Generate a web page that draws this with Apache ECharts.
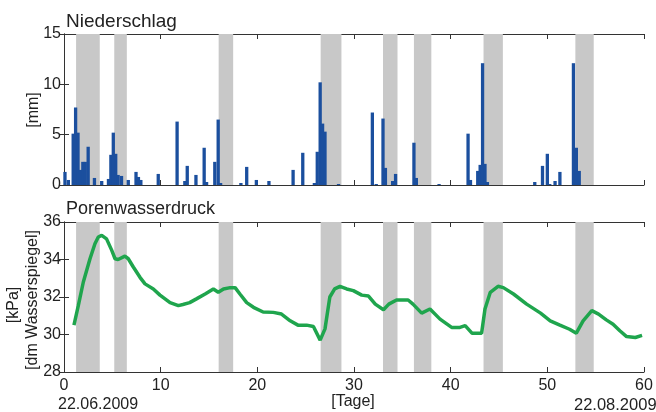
<!DOCTYPE html>
<html>
<head>
<meta charset="utf-8">
<script src="https://cdn.jsdelivr.net/npm/echarts@6/dist/echarts.min.js"></script>
<style>
html,body{margin:0;padding:0;background:#fff;}
#chart{width:656px;height:412px;}
</style>
</head>
<body>
<div id="chart"></div>
<script>
// ---- data ----
const xTicks = [0, 10, 20, 30, 40, 50, 60];
const rainYTicks = [0, 5, 10, 15];
const pressYTicks = [28, 30, 32, 34, 36];

// shaded periods [start day, end day]
const bands = [[1.25, 3.7], [5.2, 6.5], [16.0, 17.5], [26.55, 28.7], [33.0, 34.5], [36.2, 38.0], [43.4, 45.4], [52.9, 54.8]];

// precipitation (day, mm)
const rainDays = [0.1, 0.45, 0.95, 1.2, 1.45, 1.7, 1.95, 2.2, 2.5, 3.15, 3.9,
  4.6, 4.85, 5.1, 5.35, 5.6, 5.95, 6.65, 7.45, 7.7, 7.95, 9.75,
  11.7, 12.5, 12.75, 13.65, 14.5, 14.75, 15.6, 15.95, 16.2,
  18.3, 18.9, 19.9, 21.2, 23.7, 24.7, 25.9, 26.2, 26.5, 26.75, 27.0, 28.4,
  31.9, 32.3, 33.0, 33.25, 34.0, 34.3, 36.2, 36.45, 38.8,
  41.8, 42.05, 42.8, 43.05, 43.3, 43.55, 43.8,
  48.7, 49.5, 50.0, 50.25, 50.8, 51.3, 52.7, 53.0, 53.3];
const rainMm = [1.3, 0.5, 5.1, 7.7, 5.2, 1.5, 2.3, 2.3, 3.8, 0.7, 0.4,
  0.6, 3.0, 5.2, 3.1, 1.0, 0.9, 0.5, 1.3, 0.8, 0.5, 1.1,
  6.3, 0.4, 1.9, 1.0, 3.7, 0.3, 2.3, 6.5, 0.2,
  0.2, 1.8, 0.5, 0.4, 1.5, 3.2, 0.2, 3.3, 10.2, 6.1, 5.3, 0.1,
  7.2, 0.1, 6.6, 1.7, 0.4, 1.1, 4.2, 0.7, 0.1,
  5.1, 0.5, 1.4, 2.0, 12.1, 2.1, 0.3,
  0.3, 1.9, 3.1, 0.1, 0.4, 1.3, 12.1, 3.7, 1.4];

// pore water pressure (day, kPa)
const pressDays = [1.03, 1.48, 2.0, 2.69, 3.2, 3.55, 3.9, 4.4, 4.93, 5.28, 5.6, 6.3, 6.65, 7.17, 7.86, 8.38, 9.24, 9.93, 10.97, 11.83, 12.3, 13.0, 13.7, 14.6, 15.45, 15.96, 16.5, 17.2, 17.7, 18.2, 18.9, 19.6, 20.6, 21.65, 22.5, 23.4, 24.2, 25.1, 25.8, 26.5, 27.0, 27.5, 28.0, 28.55, 29.24, 29.93, 30.8, 31.5, 32.2, 33.05, 33.6, 34.4, 35.6, 36.1, 37.0, 37.86, 38.9, 40.1, 40.96, 41.5, 42.2, 43.2, 43.55, 44.1, 44.9, 45.45, 46.5, 47.86, 49.3, 50.3, 51.3, 52.3, 53.0, 53.7, 54.6, 55.3, 56.1, 56.8, 57.5, 58.2, 59.1, 59.8];
const pressKPa = [30.5, 31.54, 32.8, 34.04, 34.84, 35.2, 35.29, 35.1, 34.5, 34.04, 34.0, 34.18, 34.04, 33.6, 33.05, 32.7, 32.43, 32.1, 31.7, 31.54, 31.6, 31.7, 31.9, 32.16, 32.43, 32.25, 32.43, 32.5, 32.5, 32.16, 31.7, 31.45, 31.2, 31.18, 31.09, 30.73, 30.5, 30.5, 30.43, 29.7, 30.3, 32.0, 32.43, 32.57, 32.43, 32.34, 32.1, 32.05, 31.62, 31.32, 31.62, 31.84, 31.84, 31.62, 31.14, 31.36, 30.82, 30.38, 30.38, 30.47, 30.07, 30.07, 31.36, 32.25, 32.57, 32.5, 32.16, 31.62, 31.14, 30.73, 30.5, 30.28, 30.07, 30.73, 31.27, 31.09, 30.78, 30.55, 30.2, 29.89, 29.84, 29.95];

// ---- chart ----
const FONT = '"Liberation Sans", Arial, sans-serif';
const AX = '#333';
const chart = echarts.init(document.getElementById('chart'), null, {renderer: 'canvas'});

const bandAreas = bands.map(b => [{xAxis: b[0]}, {xAxis: b[1]}]);
const markArea = {silent: true, itemStyle: {color: '#c8c8c8'}, data: bandAreas};

function xAx(gi, pos, labels) {
  return {
    type: 'value', gridIndex: gi, position: pos, min: 0, max: 60, interval: 10,
    axisLine: {show: true, onZero: false, lineStyle: {color: AX, width: 1}},
    axisTick: {show: true, inside: true, length: 5, lineStyle: {color: AX}},
    axisLabel: {show: labels, color: '#222', fontSize: 16, fontFamily: FONT, margin: 6},
    splitLine: {show: false}
  };
}
function yAx(gi, pos, min, max, interval, labels) {
  return {
    type: 'value', gridIndex: gi, position: pos, min: min, max: max, interval: interval,
    axisLine: {show: true, lineStyle: {color: AX, width: 1}},
    axisTick: {show: true, inside: true, length: 5, lineStyle: {color: AX}},
    axisLabel: {show: labels, color: '#222', fontSize: 16, fontFamily: FONT, margin: 3},
    splitLine: {show: false}
  };
}

const option = {
  animation: false,
  backgroundColor: '#fff',
  title: [
    {text: 'Niederschlag', left: 61, top: 7, textStyle: {fontSize: 19, fontWeight: 'normal', color: '#222', fontFamily: FONT}},
    {text: 'Porenwasserdruck', left: 61, top: 195, textStyle: {fontSize: 18, fontWeight: 'normal', color: '#222', fontFamily: FONT}}
  ],
  grid: [
    {left: 64, right: 12, top: 34, height: 151},
    {left: 64, right: 12, top: 222, height: 150}
  ],
  xAxis: [
    xAx(0, 'bottom', false), xAx(0, 'top', false),
    xAx(1, 'bottom', true), xAx(1, 'top', false)
  ],
  yAxis: [
    yAx(0, 'left', 0, 15, 5, true), yAx(0, 'right', 0, 15, 5, false),
    yAx(1, 'left', 28, 36, 2, true), yAx(1, 'right', 28, 36, 2, false)
  ],
  series: [
    {
      type: 'bar', xAxisIndex: 0, yAxisIndex: 0, barWidth: 3.3, barGap: '0%',
      itemStyle: {color: '#1b4f9e'},
      data: rainDays.map((d, i) => [d, rainMm[i]]),
      markArea: markArea, z: 3
    },
    {
      type: 'line', xAxisIndex: 2, yAxisIndex: 2, showSymbol: false, symbol: 'none',
      lineStyle: {color: '#1fa54d', width: 3.5}, smooth: false,
      data: pressDays.map((d, i) => [d, pressKPa[i]]),
      markArea: markArea, z: 3
    }
  ],
  graphic: [
    {type: 'text', x: 34, y: 110, rotation: Math.PI / 2, style: {text: '[mm]', fill: '#222', font: '16px ' + FONT, textAlign: 'center', textVerticalAlign: 'middle'}},
    {type: 'text', x: 14, y: 305, rotation: Math.PI / 2, style: {text: '[kPa]', fill: '#222', font: '16px ' + FONT, textAlign: 'center', textVerticalAlign: 'middle'}},
    {type: 'text', x: 33, y: 300, rotation: Math.PI / 2, style: {text: '[dm Wasserspiegel]', fill: '#222', font: '16px ' + FONT, textAlign: 'center', textVerticalAlign: 'middle'}},
    {type: 'text', x: 58, y: 405, style: {text: '22.06.2009', fill: '#222', font: '16px ' + FONT, textAlign: 'left', textVerticalAlign: 'middle'}},
    {type: 'text', x: 353, y: 402, style: {text: '[Tage]', fill: '#222', font: '16px ' + FONT, textAlign: 'center', textVerticalAlign: 'middle'}},
    {type: 'text', x: 574, y: 405, style: {text: '22.08.2009', fill: '#222', font: '16.5px ' + FONT, textAlign: 'left', textVerticalAlign: 'middle'}}
  ]
};
chart.setOption(option);
</script>
</body>
</html>
